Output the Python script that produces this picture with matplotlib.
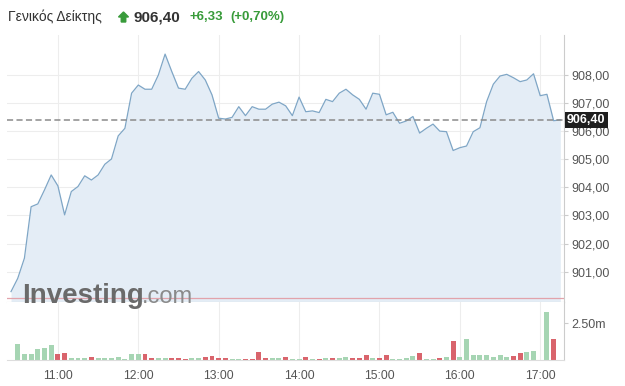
import numpy as np
import matplotlib
matplotlib.use('Agg')
import matplotlib.pyplot as plt
import matplotlib.transforms as mtransforms
from matplotlib.patches import FancyArrow

plt.rcParams['font.family'] = ['Liberation Sans', 'DejaVu Sans']

# 5-minute points from 10:25
start_min = 10 * 60 + 25
price = [900.29, 900.76, 901.48, 903.31, 903.41, 903.91, 904.44, 904.05, 903.02, 903.85,
         904.03, 904.41, 904.26, 904.44, 904.82, 905.01, 905.83, 906.10, 907.35, 907.64,
         907.49, 907.49, 908.00, 908.74, 908.12, 907.53, 907.49, 907.88, 908.12, 907.82,
         907.29, 906.46, 906.43, 906.49, 906.87, 906.55, 906.87, 906.78, 906.78, 906.96,
         907.03, 906.90, 906.55, 907.21, 906.69, 906.72, 906.66, 907.13, 907.05, 907.35,
         907.49, 907.29, 907.13, 906.78, 907.35, 907.31, 906.58, 906.67, 906.28, 906.36,
         906.52, 905.93, 906.10, 906.25, 906.00, 905.98, 905.31, 905.41, 905.47, 905.98,
         906.12, 907.05, 907.67, 907.96, 908.02, 907.90, 907.76, 907.82, 908.04, 907.26,
         907.31, 906.37, 906.40]

# volume (millions), bars from 10:30
volume = [1.09, 0.39, 0.41, 0.75, 0.79, 1.00, 0.41, 0.45, 0.16, 0.16,
          0.11, 0.18, 0.16, 0.14, 0.14, 0.23, 0.07, 0.39, 0.39, 0.39,
          0.11, 0.11, 0.16, 0.16, 0.16, 0.09, 0.16, 0.11, 0.20, 0.25,
          0.11, 0.11, 0.05, 0.07, 0.09, 0.09, 0.52, 0.11, 0.16, 0.16,
          0.20, 0.07, 0.10, 0.18, 0.07, 0.10, 0.16, 0.11, 0.16, 0.23,
          0.16, 0.16, 0.32, 0.16, 0.16, 0.36, 0.07, 0.07, 0.16, 0.30,
          0.45, 0.05, 0.05, 0.16, 0.23, 1.27, 0.23, 1.45, 0.32, 0.32,
          0.32, 0.18, 0.32, 0.18, 0.30, 0.45, 0.57, 0.63, 0.00, 3.29,
          1.41]
# G = up bar, R = down bar
vol_dir = ("GGGGGGRR" "GGGR" "GGGGGGGR" "RGGRRR" "GGRRRR" "GGRRRR"
           "GGRGGRGR" "GRGGRRRGRR" "GGGGRGGRGR" "GGGGGGGGRR" "GG-GR")

last_price = 906.40
prev_close = 900.07
price_ticks = [901, 902, 903, 904, 905, 906, 907, 908]
hour_ticks = [11, 12, 13, 14, 15, 16, 17]

t_price = [start_min + 5 * i for i in range(len(price))]
t_vol = [start_min + 5 + 5 * i for i in range(len(volume))]

W, H = 625, 386
fig = plt.figure(figsize=(W / 100, H / 100), dpi=100)
fig.patch.set_facecolor('white')

left, right = 7, 564
ax = fig.add_axes([left / W, 1 - 302 / H, (right - left) / W, (302 - 35) / H])
axv = fig.add_axes([left / W, 1 - 360 / H, (right - left) / W, (360 - 302) / H], sharex=ax)

ymin, ymax = 899.92, 909.42
ax.fill_between(t_price, price, ymin, color='#e4edf6', lw=0, zorder=1)
ax.plot(t_price, price, color='#7fa6c6', lw=0.9, zorder=3)
ax.axhline(prev_close, color='#e2a3ab', lw=0.9, zorder=2)
ax.axhline(last_price, color='#8a8a8a', lw=1.1, ls=(0, (4, 2.2)), zorder=4)
ax.set_ylim(ymin, ymax)
ax.set_xlim(start_min - 3, start_min + 5 * 82.55)

grid_c = '#ededed'
for v in price_ticks:
    ax.axhline(v, color=grid_c, lw=0.8, zorder=0)
for h in hour_ticks:
    ax.axvline(h * 60, color=grid_c, lw=0.8, zorder=0)
    axv.axvline(h * 60, color=grid_c, lw=0.8, zorder=0)

ax.yaxis.tick_right()
ax.set_yticks(price_ticks)
ax.set_yticklabels([f"{v:.2f}".replace('.', ',') for v in price_ticks])
ax.tick_params(axis='y', length=3, color='#cccccc', labelcolor='#555555', labelsize=9, pad=2)
ax.tick_params(axis='x', length=0, labelbottom=False)
for s in ['top', 'left']:
    ax.spines[s].set_visible(False)
ax.spines['right'].set_color('#cccccc')
ax.spines['bottom'].set_color('#cccccc')
ax.set_facecolor('none')

# last price label
trans = mtransforms.blended_transform_factory(ax.transAxes, ax.transData)
ax.text(1.005, last_price, f"{last_price:.2f}".replace('.', ','), transform=trans,
        ha='left', va='center', color='white', fontsize=9, fontweight='bold',
        bbox=dict(boxstyle='square,pad=0.18', fc='#1e1e1e', ec='none'),
        clip_on=False, zorder=10)

# volume
colors = ['#a6d5b3' if c == 'G' else '#d9646c' for c in vol_dir]
axv.bar(t_vol, volume, width=3.7, color=colors, zorder=2)
axv.set_ylim(0, 3.95)
axv.yaxis.tick_right()
axv.set_yticks([2.5])
axv.set_yticklabels(['2.50m'])
axv.tick_params(axis='y', length=3, color='#cccccc', labelcolor='#555555', labelsize=9, pad=2)
axv.set_xticks([h * 60 for h in hour_ticks])
axv.set_xticklabels([f"{h}:00" for h in hour_ticks])
axv.tick_params(axis='x', length=0, labelcolor='#555555', labelsize=8.7, pad=7)
for s in ['top', 'left']:
    axv.spines[s].set_visible(False)
axv.spines['right'].set_color('#cccccc')
axv.spines['bottom'].set_color('#dddddd')

# watermark
fig.text(22 / W, 1 - 303 / H, 'Investing', fontsize=20, fontweight='bold',
         color='#6a6a6a', va='baseline', ha='left')
fig.text(142 / W, 1 - 303 / H, '.com', fontsize=17, color='#8a8a8a',
         va='baseline', ha='left')

# header
green = '#389b3a'
fig.text(8 / W, 1 - 17 / H, 'Γενικός Δείκτης', fontsize=10, color='#333333', va='center')
arrow = FancyArrow(1.235, (H - 22) / 100, 0, 0.05, width=0.045, head_width=0.1,
                   head_length=0.05, length_includes_head=False,
                   color=green, transform=fig.dpi_scale_trans)
fig.patches.append(arrow)
fig.text(133 / W, 1 - 17 / H, f"{last_price:.2f}".replace('.', ','), fontsize=11,
         fontweight='bold', color='#333333', va='center')
fig.text(190 / W, 1 - 17 / H, '+6,33', fontsize=9.5, fontweight='bold', color=green, va='center')
fig.text(230 / W, 1 - 17 / H, '(+0,70%)', fontsize=9.5, fontweight='bold', color=green, va='center')

fig.savefig('out.png', dpi=100)
